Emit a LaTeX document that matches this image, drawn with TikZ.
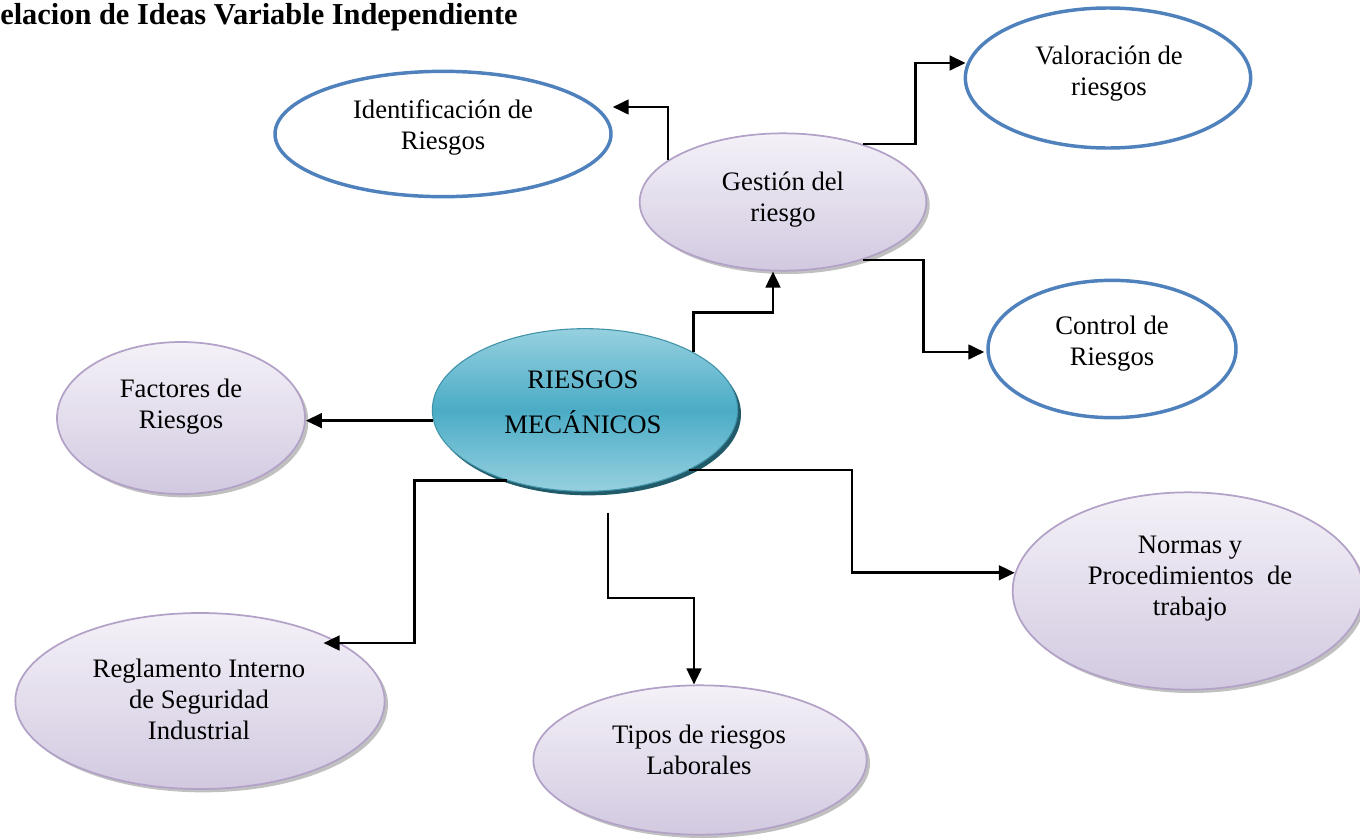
\documentclass[tikz,border=0pt]{standalone}
\usepackage{fontspec}
\setmainfont{Liberation Serif}
\usetikzlibrary{shapes.geometric,arrows.meta,calc,shadows}
\definecolor{blueline}{HTML}{4F81BD}
\definecolor{purpline}{HTML}{B3A2C7}
\definecolor{purptop}{HTML}{F4F1F8}
\definecolor{purpbot}{HTML}{D2C9E0}
\definecolor{tealmid}{HTML}{4BACC6}
\definecolor{tealtop}{HTML}{96D0DF}
\definecolor{tealshadow}{HTML}{215A69}
\begin{document}
\begin{tikzpicture}[x=0.75pt,y=-0.75pt,
  blueell/.style={ellipse,draw=blueline,line width=2.6pt,fill=white,inner sep=0pt},
  purpell/.style={ellipse,draw=purpline,line width=1.3pt,top color=purptop,bottom color=purpbot,inner sep=0pt,
    drop shadow={shadow xshift=2.5pt,shadow yshift=-2.5pt,opacity=0.55,fill=black!45}},
  tealell/.style={ellipse,draw=tealmid!85!black,line width=0.8pt,top color=tealtop,bottom color=tealtop,middle color=tealmid,inner sep=0pt,
    drop shadow={shadow xshift=2.5pt,shadow yshift=-3pt,opacity=1,fill=tealshadow}},
  txt/.style={align=center,inner sep=0pt,font=\fontsize{20}{23.25}\selectfont},
  conn/.style={line width=2pt,-{Triangle[length=12pt,width=11pt]}}]
\useasboundingbox (0,0) rectangle (1360,839);

\node[anchor=base west,inner sep=0pt,font=\fontsize{22.8}{26}\selectfont\bfseries] (title) at (0,24) {elacion de Ideas Variable Independiente};

\node[blueell,minimum width=252pt,minimum height=94pt] (ident) at (443,134) {};
\node[purpell,minimum width=215pt,minimum height=103pt] (gestion) at (783,202) {};
\node[blueell,minimum width=214pt,minimum height=105pt] (valor) at (1108,78) {};
\node[blueell,minimum width=186pt,minimum height=103pt] (control) at (1112,349) {};
\node[tealell,minimum width=229pt,minimum height=122pt] (riesgos) at (585,410) {};
\node[purpell,minimum width=186pt,minimum height=114pt] (factores) at (181,418) {};
\node[purpell,minimum width=263pt,minimum height=148pt] (normas) at (1188,591) {};
\node[purpell,minimum width=277pt,minimum height=132pt] (regl) at (200,701) {};
\node[purpell,minimum width=250pt,minimum height=112pt] (tipos) at (700,760) {};

\node[txt] (identtxt) at ($(ident.center)+(0,-7)$) {Identificación de\\Riesgos};
\node[txt] (gestiontxt) at ($(gestion.center)+(0,-2)$) {Gestión del\\riesgo};
\node[txt] (valortxt) at ($(valor.center)+(1,-4)$) {Valoración de\\riesgos};
\node[txt] (controltxt) at ($(control.center)+(0,-5)$) {Control de\\Riesgos};
\node[txt,font=\fontsize{20}{33.75}\selectfont] (riesgostxt) at ($(riesgos.center)+(-2,-8)$) {RIESGOS\\MECÁNICOS};
\node[txt] (factorestxt) at ($(factores.center)+(0,-11)$) {Factores de\\Riesgos};
\node[txt] (normastxt) at ($(normas.center)+(2,-12)$) {Normas y\\Procedimientos\ \ de\\trabajo};
\node[txt] (regltxt) at ($(regl.center)+(-1,-2)$) {Reglamento Interno\\de Seguridad\\Industrial};
\node[txt] (tipostxt) at ($(tipos.center)+(-1,-10)$) {Tipos de riesgos\\Laborales};

\draw[conn] (riesgos.28) -- ++(0,-40) -| ($(gestion.south)+(-10,0)$);
\draw[conn] (gestion.160) |- ($(ident.east)+(0,-27)$);
\draw[conn] (gestion.36) -- ++(53,0) |- ($(valor.west)+(2,-15)$);
\draw[conn] (gestion.-36) -- ++(61,0) |- ($(control.west)+(-2,3)$);
\draw[conn] (riesgos.184) -- (riesgos.184 -| factores.east);
\draw[conn] (riesgos.222) -- ++(-92,0) |- ($(regl.east)+(-62,-58)$);
\draw[conn] ($(riesgos.south)+(23,21)$) -- ++(0,85) -| ($(tipos.north)+(-6,0)$);
\draw[conn] (riesgos.-30) -- ++(163,0) |- (normas.174);
\end{tikzpicture}
\end{document}
